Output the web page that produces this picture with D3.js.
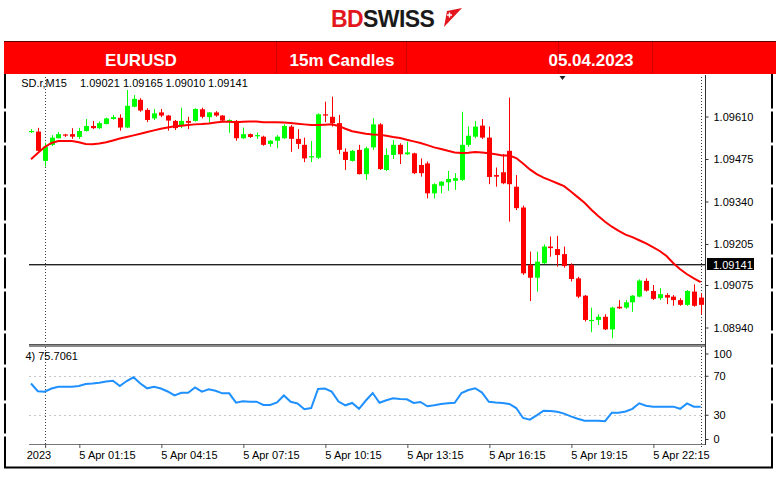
<!DOCTYPE html>
<html><head><meta charset="utf-8">
<script src="https://cdn.jsdelivr.net/npm/d3@7"></script>
<style>body{margin:0;background:#fff;}svg{display:block;}</style>
</head><body><svg id="c" width="780" height="478"></svg>
<script>
// ---- DATA (EURUSD 15m, 4 Apr 23:30 -> 6 Apr 00:00) ----
const opens = [
1.09562,1.09562,1.09469,1.09520,1.09541,1.09553,1.09554,1.09545,1.09564,1.09580,
1.09573,1.09586,1.09602,1.09606,1.09575,1.09641,1.09663,1.09631,1.09604,1.09623,
1.09613,1.09596,1.09581,1.09596,1.09596,1.09633,1.09608,1.09623,1.09613,1.09597,
1.09596,1.09541,1.09554,1.09548,1.09546,1.09523,1.09533,1.09541,1.09578,1.09539,
1.09520,1.09481,1.09479,1.09617,1.09609,1.09589,1.09498,1.09469,1.09504,1.09427,
1.09512,1.09585,1.09440,1.09488,1.09520,1.09490,1.09493,1.09456,1.09461,1.09366,
1.09390,1.09401,1.09406,1.09409,1.09520,1.09546,1.09581,1.09543,1.09424,1.09433,
1.09501,1.09387,1.09321,1.09139,1.09098,1.09144,1.09197,1.09189,1.09173,1.09139,
1.09096,1.09041,1.08962,1.08964,1.08974,1.08934,1.09006,1.09003,1.09020,1.09038,
1.09088,1.09056,1.09033,1.09043,1.09038,1.09027,1.09012,1.09054,1.09035];
const highs = [
1.09570,1.09574,1.09526,1.09551,1.09561,1.09555,1.09573,1.09574,1.09602,1.09596,
1.09594,1.09606,1.09615,1.09617,1.09694,1.09678,1.09668,1.09636,1.09634,1.09634,
1.09615,1.09599,1.09638,1.09609,1.09636,1.09638,1.09624,1.09627,1.09615,1.09601,
1.09599,1.09575,1.09556,1.09559,1.09549,1.09535,1.09551,1.09585,1.09583,1.09570,
1.09543,1.09532,1.09620,1.09657,1.09673,1.09615,1.09509,1.09504,1.09520,1.09514,
1.09604,1.09589,1.09509,1.09535,1.09525,1.09530,1.09495,1.09477,1.09467,1.09398,
1.09405,1.09437,1.09430,1.09625,1.09578,1.09596,1.09602,1.09578,1.09448,1.09491,
1.09670,1.09424,1.09327,1.09181,1.09181,1.09204,1.09229,1.09231,1.09197,1.09144,
1.09101,1.09043,1.09003,1.08982,1.08982,1.09006,1.09027,1.09027,1.09043,1.09093,
1.09096,1.09075,1.09065,1.09049,1.09043,1.09033,1.09059,1.09077,1.09049];
const lows = [
1.09558,1.09500,1.09451,1.09516,1.09540,1.09545,1.09539,1.09539,1.09562,1.09570,
1.09570,1.09585,1.09600,1.09565,1.09573,1.09639,1.09625,1.09592,1.09599,1.09608,
1.09565,1.09567,1.09573,1.09570,1.09594,1.09604,1.09592,1.09609,1.09592,1.09558,
1.09533,1.09539,1.09542,1.09539,1.09517,1.09514,1.09509,1.09539,1.09498,1.09507,
1.09465,1.09465,1.09475,1.09592,1.09578,1.09491,1.09440,1.09467,1.09426,1.09409,
1.09504,1.09440,1.09437,1.09475,1.09459,1.09488,1.09427,1.09419,1.09350,1.09350,
1.09366,1.09374,1.09377,1.09405,1.09514,1.09541,1.09539,1.09395,1.09387,1.09395,
1.09276,1.09313,1.09107,1.09024,1.09054,1.09142,1.09165,1.09133,1.09130,1.09086,
1.09033,1.08959,1.08925,1.08948,1.08932,1.08906,1.08999,1.08999,1.08990,1.09036,
1.09054,1.09027,1.09027,1.09014,1.09009,1.09009,1.09009,1.09006,1.08982];
const closes = [
1.09564,1.09501,1.09514,1.09543,1.09554,1.09550,1.09546,1.09564,1.09580,1.09573,
1.09589,1.09604,1.09608,1.09575,1.09644,1.09666,1.09629,1.09599,1.09620,1.09613,
1.09597,1.09573,1.09596,1.09590,1.09634,1.09609,1.09623,1.09613,1.09597,1.09599,
1.09541,1.09554,1.09545,1.09551,1.09520,1.09533,1.09546,1.09580,1.09539,1.09523,
1.09477,1.09484,1.09617,1.09613,1.09589,1.09504,1.09472,1.09501,1.09427,1.09509,
1.09585,1.09443,1.09488,1.09520,1.09490,1.09496,1.09430,1.09430,1.09366,1.09395,
1.09403,1.09412,1.09414,1.09520,1.09549,1.09578,1.09543,1.09418,1.09419,1.09398,
1.09395,1.09319,1.09112,1.09098,1.09149,1.09197,1.09192,1.09170,1.09135,1.09094,
1.09038,1.08964,1.08964,1.08974,1.08934,1.09003,1.09001,1.09020,1.09041,1.09089,
1.09057,1.09031,1.09046,1.09035,1.09027,1.09012,1.09056,1.09009,1.09012];
const maValues = [
1.09474,1.09494,1.09513,1.09526,1.09532,1.09532,1.09532,1.09528,1.09523,1.09522,
1.09524,1.09528,1.09534,1.09540,1.09545,1.09550,1.09555,1.09561,1.09566,1.09571,
1.09575,1.09579,1.09581,1.09583,1.09585,1.09586,1.09588,1.09591,1.09593,1.09593,
1.09592,1.09593,1.09594,1.09594,1.09592,1.09592,1.09592,1.09591,1.09589,1.09587,
1.09585,1.09583,1.09583,1.09584,1.09585,1.09580,1.09571,1.09563,1.09559,1.09555,
1.09553,1.09552,1.09549,1.09545,1.09542,1.09536,1.09531,1.09526,1.09519,1.09512,
1.09507,1.09501,1.09496,1.09494,1.09495,1.09497,1.09496,1.09493,1.09490,1.09486,
1.09486,1.09478,1.09461,1.09442,1.09427,1.09416,1.09407,1.09398,1.09389,1.09372,
1.09354,1.09336,1.09314,1.09294,1.09276,1.09260,1.09247,1.09235,1.09227,1.09217,
1.09207,1.09195,1.09183,1.09167,1.09144,1.09125,1.09109,1.09096,1.09084];
const rsiValues = [
62.6,54.7,54.2,57.4,59.3,59.3,59.3,60.0,62.1,62.6,
63.4,64.6,65.4,60.0,65.1,68.9,62.6,57.6,59.2,57.4,
54.4,50.3,53.1,53.1,58.5,54.2,56.6,55.1,52.5,52.5,
42.9,44.4,43.9,43.9,40.5,40.5,43.1,50.3,43.8,42.1,
36.1,37.4,56.9,57.4,54.2,44.1,40.2,42.6,36.6,45.1,
52.8,42.8,45.4,47.4,46.7,46.4,42.6,43.6,39.2,40.3,
41.6,42.4,42.8,52.8,55.9,57.7,53.3,43.8,43.0,42.5,
41.6,37.4,27.2,25.5,29.9,34.7,34.4,33.6,31.7,28.9,
26.4,24.4,24.4,24.4,23.9,32.6,32.6,33.8,36.6,42.3,
39.8,38.8,38.8,38.8,38.8,36.6,42.1,38.8,38.8];
const priceTicks = [1.09610,1.09475,1.09340,1.09205,1.09075,1.08940];
const rsiTicks = [100,70,30,0];
const rsiLevels = [70,30];
const timeTickIdx = [2,7,19,31,43,55,67,79,91];
// first label is shown only as its visible tail "2023" (the reference clips it at the chart edge)
const timeTickLabels = ["2023","5 Apr 01:15","5 Apr 04:15","5 Apr 07:15","5 Apr 10:15","5 Apr 13:15","5 Apr 16:15","5 Apr 19:15","5 Apr 22:15"];
const daySeparators = [2,98];
const bidPrice = 1.09141;
const headerTexts = ["EURUSD","15m Candles","05.04.2023"];
const symbolText = "SD.r,M15";
const ohlcText = ["1.09021","1.09165","1.09010","1.09141"];
const rsiLabel = "4) 75.7061";

// ---- LAYOUT ----
const svg = d3.select("#c");
const L = 29, R = 705, mainTop = 75, mainBot = 344, rsiTop = 347, rsiBot = 444;
const FONT = "'Liberation Sans', Arial, sans-serif";

const x = d3.scaleLinear().domain([0, opens.length - 1]).range([31, 700.7]);
const y = d3.scaleLinear().domain([1.08940, 1.09610]).range([327.5, 116.5]);
const yr = d3.scaleLinear().domain([0, 100]).range([444.5, 347]);

const defs = svg.append("defs");
defs.append("clipPath").attr("id","clipMain").append("rect").attr("x",L-1).attr("y",mainTop).attr("width",R-L+1).attr("height",mainBot-mainTop);
defs.append("clipPath").attr("id","clipRsi").append("rect").attr("x",L-1).attr("y",rsiTop).attr("width",R-L+1).attr("height",rsiBot-rsiTop);

// ---- LOGO ----
const logo = svg.append("text").attr("x",331).attr("y",27).attr("font-family",FONT).attr("font-weight","bold").attr("font-size",23).attr("letter-spacing","-0.6");
logo.append("tspan").attr("fill","#e3161e").text("BD");
logo.append("tspan").attr("fill","#1a1a1a").text("SWISS");
svg.append("path").attr("d","M444,27 L462,8 L447,11 Z").attr("fill","#e3161e");
svg.append("path").attr("d","M449.5,12.5 v5 M447,15 h5").attr("stroke","#fff").attr("stroke-width",1.4);

// ---- HEADER BAR ----
svg.append("rect").attr("x",4).attr("y",41).attr("width",772).attr("height",33).attr("fill","#ff0000");
svg.append("line").attr("x1",4).attr("x2",776).attr("y1",41.5).attr("y2",41.5).attr("stroke","#5a0000").attr("stroke-width",1);
[276.5,406.5,558.5,652.5].forEach(d=>{
  svg.append("line").attr("x1",d).attr("x2",d).attr("y1",42).attr("y2",74).attr("stroke","#c00000").attr("stroke-width",1).attr("opacity",0.7);
});
const headerX = [141, 342, 591];
svg.selectAll("text.hdr").data(headerTexts).join("text").attr("class","hdr")
  .attr("x",(d,i)=>headerX[i]).attr("y",66).attr("text-anchor","middle")
  .attr("font-family",FONT).attr("font-weight","bold").attr("font-size",17).attr("fill","#fff").text(d=>d);

// ---- OUTER FRAME ----
const gaps = [110,144,186,222,256,290,332,366,402,435];
function segLine(xp){
  let start = 74;
  gaps.concat([468]).forEach(g=>{
    svg.append("line").attr("x1",xp).attr("x2",xp).attr("y1",start).attr("y2",g===468?468:g-1.5).attr("stroke","#000").attr("stroke-width",2);
    start = g+1.5;
  });
}
segLine(5); segLine(772);
svg.append("line").attr("x1",4).attr("x2",773).attr("y1",467.5).attr("y2",467.5).attr("stroke","#000").attr("stroke-width",2);

// ---- RSI levels ----
svg.append("g").selectAll("line").data(rsiLevels).join("line")
  .attr("x1",L).attr("x2",R).attr("y1",d=>Math.round(yr(d))+0.5).attr("y2",d=>Math.round(yr(d))+0.5)
  .attr("stroke","#c8c8c8").attr("stroke-dasharray","2,3");

// ---- Bid line ----
const by = Math.round(y(bidPrice)) + 0.5;
svg.append("line").attr("x1",L).attr("x2",R).attr("y1",by).attr("y2",by).attr("stroke","#222");
svg.append("line").attr("x1",L).attr("x2",R).attr("y1",by+1).attr("y2",by+1).attr("stroke","#aaa");

// ---- Day separators ----
svg.append("g").selectAll("line").data(daySeparators).join("line")
  .attr("x1",d=>Math.round(x(d))+0.5).attr("x2",d=>Math.round(x(d))+0.5)
  .attr("y1",mainTop+2).attr("y2",rsiBot+3).attr("stroke","#444").attr("stroke-dasharray","1,2");

// ---- CANDLES ----
const candles = opens.map((o,i)=>({i, o, h:highs[i], l:lows[i], c:closes[i]}));
const gm = svg.append("g").attr("clip-path","url(#clipMain)");
const col = d => d.c >= d.o ? "#00ff00" : "#ff0000";
gm.selectAll("line.wick").data(candles).join("line").attr("class","wick")
  .attr("x1",d=>Math.round(x(d.i))+0.5).attr("x2",d=>Math.round(x(d.i))+0.5)
  .attr("y1",d=>y(d.h)).attr("y2",d=>y(d.l)).attr("stroke",col).attr("stroke-width",1);
gm.selectAll("rect.body").data(candles).join("rect").attr("class","body")
  .attr("x",d=>Math.round(x(d.i))-2).attr("width",5)
  .attr("y",d=>y(Math.max(d.o,d.c))).attr("height",d=>Math.max(1.2, Math.abs(y(d.o)-y(d.c))))
  .attr("fill",col);

// ---- MA ----
gm.append("path").datum(maValues).attr("fill","none").attr("stroke","#ff0000").attr("stroke-width",2)
  .attr("d", d3.line().x((d,i)=>x(i)).y(d=>y(d)));

// ---- RSI ----
svg.append("g").attr("clip-path","url(#clipRsi)").append("path").datum(rsiValues)
  .attr("fill","none").attr("stroke","#1e90ff").attr("stroke-width",2)
  .attr("d", d3.line().x((d,i)=>x(i)).y(d=>yr(d)));

// ---- Panel frame lines ----
svg.append("rect").attr("x",L).attr("y",344).attr("width",R-L).attr("height",3).attr("fill","#8a8a8a");
svg.append("line").attr("x1",L).attr("x2",R).attr("y1",344.5).attr("y2",344.5).attr("stroke","#555");
svg.append("line").attr("x1",L).attr("x2",R+1).attr("y1",rsiBot+0.5).attr("y2",rsiBot+0.5).attr("stroke","#777");
svg.append("line").attr("x1",R+0.5).attr("x2",R+0.5).attr("y1",mainTop).attr("y2",rsiBot+1).attr("stroke","#333");

// ---- Price axis ----
const pa = svg.append("g").attr("transform",`translate(${R+0.5},0)`)
  .call(d3.axisRight(y).tickValues(priceTicks).tickSize(3).tickPadding(5).tickFormat(d3.format(".5f")));
pa.select(".domain").remove();
pa.selectAll("line").attr("stroke","#333");
pa.selectAll("text").attr("font-family",FONT).attr("font-size",11).attr("fill","#000");

// bid box
svg.append("rect").attr("x",707).attr("y",by-6.5).attr("width",47).attr("height",12).attr("fill","#000");
svg.append("text").attr("x",713).attr("y",by+4).attr("font-family",FONT).attr("font-size",11).attr("fill","#fff").text(d3.format(".5f")(bidPrice));

// ---- RSI axis ----
const ra = svg.append("g").attr("transform",`translate(${R+0.5},0)`)
  .call(d3.axisRight(yr).tickValues(rsiTicks).tickSize(3).tickPadding(5));
ra.select(".domain").remove();
ra.selectAll("line").attr("stroke","#333");
ra.selectAll(".tick").attr("transform", d => `translate(0,${Math.min(439.5, Math.max(354, yr(d)))})`);
ra.selectAll("text").attr("font-family",FONT).attr("font-size",11).attr("fill","#000");

// ---- Time axis ----
const ta = svg.append("g").attr("transform",`translate(0,${rsiBot})`)
  .call(d3.axisBottom(x).tickValues(timeTickIdx).tickSize(4).tickPadding(3).tickFormat((d,i)=>timeTickLabels[i]));
ta.select(".domain").remove();
ta.selectAll(".tick line").attr("stroke","#555").attr("transform","translate(0.5,0)");
ta.selectAll("text").attr("font-family",FONT).attr("font-size",11).attr("fill","#000")
  .attr("text-anchor",(d,i)=> i===0 ? "end" : "start").attr("dx",(d,i)=> i===0 ? 6 : 0);

// ---- Labels ----
const lbl = svg.append("g").attr("font-family",FONT).attr("font-size",11).attr("fill","#000");
lbl.append("text").attr("x",67).attr("y",87).attr("text-anchor","end").text(symbolText);
const ohlcX = [80,123,165.5,208];
lbl.selectAll("text.ohlc").data(ohlcText).join("text").attr("class","ohlc").attr("x",(d,i)=>ohlcX[i]).attr("y",87).text(d=>d);
lbl.append("text").attr("x",78).attr("y",360).attr("text-anchor","end").text(rsiLabel);

// shift marker
svg.append("path").attr("d","M559.5,76 L565.5,76 L562.5,80 Z").attr("fill","#222");
</script></body></html>
